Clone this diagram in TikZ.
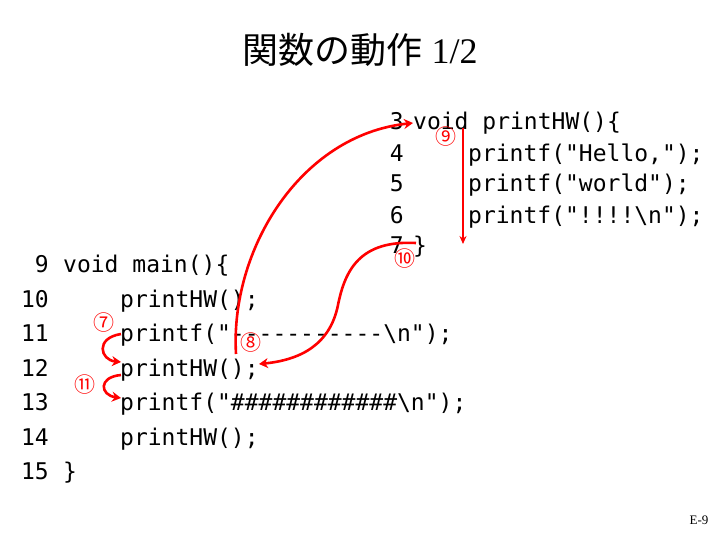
\documentclass[tikz,border=0pt]{standalone}
\usepackage{fontspec}
\setmainfont{Liberation Serif}
\newfontfamily\codefont{DejaVu Sans Mono}
\newfontfamily\jpfont{Noto Sans CJK JP}
\usetikzlibrary{arrows.meta}
\begin{document}
\begin{tikzpicture}[x=1pt,y=-1pt,
  code/.style={anchor=base west,inner sep=0pt,font=\codefont\fontsize{23}{23}\selectfont},
  num/.style={anchor=base east,inner sep=0pt,font=\codefont\fontsize{23}{23}\selectfont},
  lbl/.style={inner sep=0pt,text=red,font=\jpfont\fontsize{21}{21}\selectfont},
  flow/.style={red,line width=2.6pt,-{Stealth[length=9pt,width=10pt]}},
  thin/.style={red,line width=1.6pt,-{Stealth[length=8pt,width=7pt]}}]
\useasboundingbox (0,0) rectangle (720,540);
\node[inner sep=0pt,font=\fontsize{36}{36}\selectfont] (title) at (360,50) {{\jpfont 関数の動作} 1/2};
% right block
\node[num] (rn3) at (404,130) {3}; \node[code] (rc3) at (413,130) {void printHW()\{};
\node[num] (rn4) at (404,162) {4}; \node[code] (rc4) at (468,162) {printf("Hello,");};
\node[num] (rn5) at (404,192) {5}; \node[code] (rc5) at (468,192) {printf("world");};
\node[num] (rn6) at (404,223) {6}; \node[code] (rc6) at (468,223) {printf("!!!!\textbackslash n");};
\node[num] (rn7) at (404,253) {7}; \node[code] (rc7) at (413,253) {\}};
% left block
\node[num] (ln9) at (49,272) {9}; \node[code] (lc9) at (63,272) {void main()\{};
\node[num] (ln10) at (49,307) {10}; \node[code] (lc10) at (120,307) {printHW();};
\node[num] (ln11) at (49,341) {11}; \node[code] (lc11) at (120,341) {printf("-----------\textbackslash n");};
\node[num] (ln12) at (49,376) {12}; \node[code] (lc12) at (120,376) {printHW();};
\node[num] (ln13) at (49,410) {13}; \node[code] (lc13) at (120,410) {printf("\#\#\#\#\#\#\#\#\#\#\#\#\textbackslash n");};
\node[num] (ln14) at (49,445) {14}; \node[code] (lc14) at (120,445) {printHW();};
\node[num] (ln15) at (49,479) {15}; \node[code] (lc15) at (63,479) {\}};
\node[inner sep=0pt,font=\fontsize{13}{13}\selectfont] (page) at (699,520) {E-9};
% labels
\node[lbl] (l7) at (104,323) {⑦};
\node[lbl] (l8) at (251,343) {⑧};
\node[lbl] (l9) at (446,137) {⑨};
\node[lbl] (l10) at (405,259) {⑩};
\node[lbl] (l11) at (85,385) {⑪};
% arrow endpoints
\coordinate (a8s) at (236,354);
\coordinate (a8e) at (413,123);
\coordinate (a9s) at (463,128);
\coordinate (a9e) at (463,244);
\coordinate (a10s) at (416,243);
\coordinate (a10e) at (259,364);
\coordinate (a7s) at (121,334);
\coordinate (a7e) at (121,362);
\coordinate (a11s) at (121,375);
\coordinate (a11e) at (121,398);
\draw[flow] (a8s) .. controls (230,250) and (300,135) .. (a8e);
\draw[thin] (a9s) -- (a9e);
\draw[flow] (a10s) .. controls (360,240) and (345,270) .. (338,305) .. controls (330,345) and (300,360) .. (a10e);
\draw[flow] (a7s) .. controls (95,338) and (100,360) .. (a7e);
\draw[flow] (a11s) .. controls (98,377) and (100,395) .. (a11e);
\end{tikzpicture}
\end{document}
